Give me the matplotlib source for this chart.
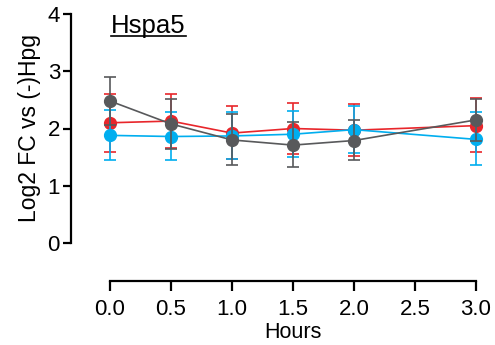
import matplotlib
matplotlib.use('Agg')
from matplotlib import pyplot as plt
from matplotlib.lines import Line2D

plt.rcParams['font.family'] = ['Liberation Sans', 'DejaVu Sans']

# time points (hours)
hours = [0.0, 0.5, 1.0, 1.5, 2.0, 3.0]

# mean log2 fold change per series
red_mean = [2.10, 2.13, 1.92, 2.00, 1.97, 2.05]
blue_mean = [1.88, 1.86, 1.87, 1.90, 1.98, 1.81]
gray_mean = [2.48, 2.08, 1.80, 1.71, 1.79, 2.15]

# error bar ends (lower, upper)
red_lo = [1.59, 1.66, 1.46, 1.56, 1.52, 1.59]
red_hi = [2.61, 2.60, 2.39, 2.44, 2.42, 2.54]
blue_lo = [1.45, 1.45, 1.47, 1.51, 1.58, 1.36]
blue_hi = [2.33, 2.29, 2.29, 2.31, 2.39, 2.28]
gray_lo = [2.06, 1.65, 1.36, 1.32, 1.45, 1.78]
gray_hi = [2.90, 2.51, 2.25, 2.12, 2.14, 2.52]

series = [
    (red_mean, red_lo, red_hi, '#e8262b', 2),
    (blue_mean, blue_lo, blue_hi, '#00aeef', 3),
    (gray_mean, gray_lo, gray_hi, '#58595b', 4),
]

fig = plt.figure(figsize=(4.95, 3.45), dpi=100)
ax = fig.add_axes([110 / 495, 1 - 243 / 345, (476 - 110) / 495, (243 - 14) / 345])

for mean, lo, hi, color, z in series:
    yerr = [[m - l for m, l in zip(mean, lo)], [h - m for m, h in zip(mean, hi)]]
    ax.errorbar(hours, mean, yerr=yerr, color=color, lw=1.2, marker='o', ms=8.5,
                capsize=4, capthick=1.2, elinewidth=1.2, zorder=z, clip_on=False)

ax.set_xlim(0, 3)
ax.set_ylim(0, 4)
ax.set_xticks([0.0, 0.5, 1.0, 1.5, 2.0, 2.5, 3.0])
ax.set_xticklabels(['0.0', '0.5', '1.0', '1.5', '2.0', '2.5', '3.0'])
ax.set_yticks([0, 1, 2, 3, 4])

for s in ['top', 'right']:
    ax.spines[s].set_visible(False)
ax.spines['left'].set_position(('outward', 28))
ax.spines['bottom'].set_position(('outward', 27.5))
ax.spines['left'].set_linewidth(1.6)
ax.spines['bottom'].set_linewidth(1.6)
ax.tick_params(axis='x', length=7.5, width=1.6, labelsize=16, pad=5.5)
ax.tick_params(axis='y', length=6, width=1.6, labelsize=16, pad=2)

ax.set_xlabel('Hours', fontsize=15.5, labelpad=1)
ax.set_ylabel('Log2 FC vs (-)Hpg', fontsize=16.5, labelpad=5)

title = ax.text(0.003, 1.0, 'Hspa5', transform=ax.transAxes, fontsize=18.5,
                ha='left', va='top')

# underline the title
fig.canvas.draw()
bb = title.get_window_extent().transformed(fig.transFigure.inverted())
y_line = bb.y0 + 0.08 * bb.height
fig.add_artist(Line2D([bb.x0, bb.x1], [y_line, y_line], color='black', lw=1.2,
                      transform=fig.transFigure))

fig.savefig('out.png', dpi=100)
